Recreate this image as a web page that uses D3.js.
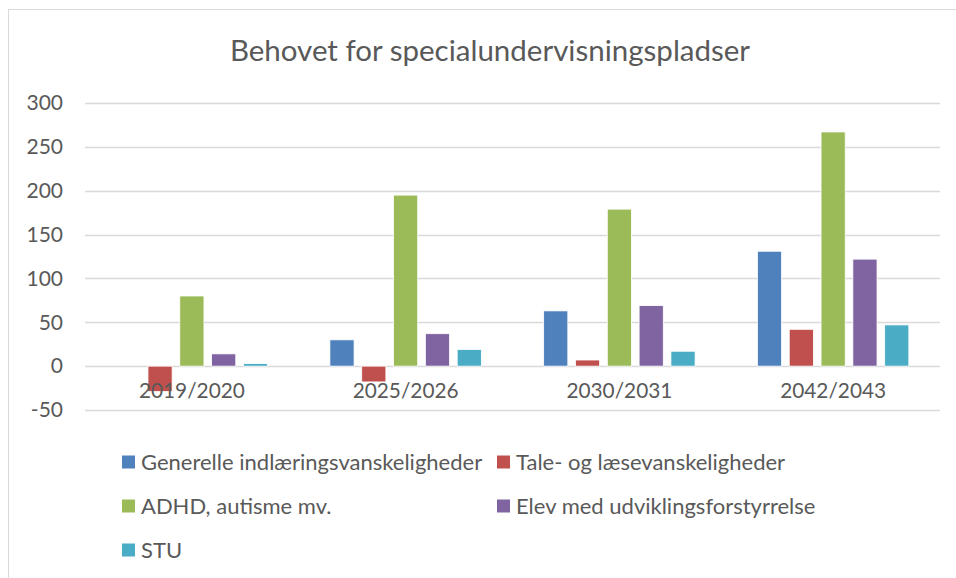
<!DOCTYPE html>
<html>
<head>
<meta charset="utf-8">
<script src="https://cdn.jsdelivr.net/npm/d3@7"></script>
<style>
  body { margin: 0; background: #fff; }
  svg text { font-family: Lato, "Open Sans", sans-serif; fill: #595959; }
</style>
</head>
<body>
<svg width="956" height="578"></svg>
<script>
var categories = ["2019/2020", "2025/2026", "2030/2031", "2042/2043"];
var seriesNames = ["Generelle indlæringsvanskeligheder", "Tale- og læsevanskeligheder",
                   "ADHD, autisme mv.", "Elev med udviklingsforstyrrelse", "STU"];
var generelle = [0, 30, 63, 131];
var tale = [-29, -18, 7, 42];
var adhd = [80, 195, 179, 267];
var udvikling = [14, 37, 69, 122];
var stu = [3, 19, 17, 47];
var yTicks = [-50, 0, 50, 100, 150, 200, 250, 300];
var colors = ["#4f81bd", "#c0504d", "#9bbb59", "#8064a2", "#4bacc6"];

var values = [generelle, tale, adhd, udvikling, stu];

var svg = d3.select("svg");
var plotLeft = 85, plotRight = 940, plotTop = 103, plotBottom = 410;

// chart frame (runs off the right and bottom of the picture)
svg.append("rect")
    .attr("x", 8.5).attr("y", 9.5)
    .attr("width", 1000).attr("height", 600)
    .attr("fill", "none").attr("stroke", "#d9d9d9");

svg.append("text")
    .attr("x", 490).attr("y", 61)
    .attr("text-anchor", "middle")
    .attr("font-size", 29.5)
    .text("Behovet for specialundervisningspladser");

var y = d3.scaleLinear().domain([-50, 300]).range([plotBottom, plotTop]);
var x0 = d3.scaleBand().domain(categories).range([plotLeft, plotRight]).paddingInner(0.22).paddingOuter(0.11);
var x1 = d3.scaleBand().domain(d3.range(seriesNames.length)).range([0, x0.bandwidth()]).padding(0.24);

// gridlines
svg.append("g").selectAll("line")
    .data(yTicks)
  .enter().append("line")
    .attr("x1", plotLeft).attr("x2", plotRight)
    .attr("y1", function(d) { return Math.round(y(d)) + 0.5; })
    .attr("y2", function(d) { return Math.round(y(d)) + 0.5; })
    .attr("stroke", "#d9d9d9").attr("stroke-width", 1.3);

// y axis labels (plain hyphen for negatives, like the original)
var yAxis = d3.axisLeft(y).tickValues(yTicks).tickSize(0).tickPadding(0)
    .tickFormat(function(d) { return String(d); });
var ya = svg.append("g").attr("transform", "translate(63,0)").call(yAxis);
ya.select(".domain").remove();
ya.selectAll("text").attr("font-size", 21).attr("fill", "#595959")
    .style("font-family", "Lato, 'Open Sans', sans-serif");

// bars
var groups = svg.append("g").selectAll("g")
    .data(categories)
  .enter().append("g")
    .attr("transform", function(d) { return "translate(" + x0(d) + ",0)"; });

groups.selectAll("rect")
    .data(function(d, i) {
        return values.map(function(s, j) { return {series: j, value: s[i]}; });
    })
  .enter().append("rect")
    .filter(function(d) { return d.value !== 0; })
    .attr("x", function(d) { return x1(d.series); })
    .attr("width", x1.bandwidth())
    .attr("y", function(d) { return y(Math.max(0, d.value)); })
    .attr("height", function(d) { return Math.abs(y(d.value) - y(0)); })
    .attr("fill", function(d) { return colors[d.series]; })
    .attr("stroke", "#fff").attr("stroke-width", 0.8);

// category labels
var xAxis = d3.axisBottom(x0).tickSize(0).tickPadding(0);
var xa = svg.append("g").attr("transform", "translate(0,383)").call(xAxis);
xa.select(".domain").remove();
xa.selectAll("text").attr("font-size", 20.8).attr("fill", "#595959")
    .attr("dy", "0.71em")
    .style("font-family", "Lato, 'Open Sans', sans-serif");

// legend
var legendPos = [[122, 462], [497, 462], [122, 506], [497, 506], [122, 550]];
var legend = svg.append("g").selectAll("g")
    .data(seriesNames)
  .enter().append("g")
    .attr("transform", function(d, i) { return "translate(" + legendPos[i][0] + "," + legendPos[i][1] + ")"; });

legend.append("rect")
    .attr("x", 0).attr("y", -6.5)
    .attr("width", 13).attr("height", 13)
    .attr("fill", function(d, i) { return colors[i]; });

legend.append("text")
    .attr("x", 19).attr("y", 0).attr("dy", "0.35em")
    .attr("font-size", 22)
    .text(function(d) { return d; });
</script>
</body>
</html>
